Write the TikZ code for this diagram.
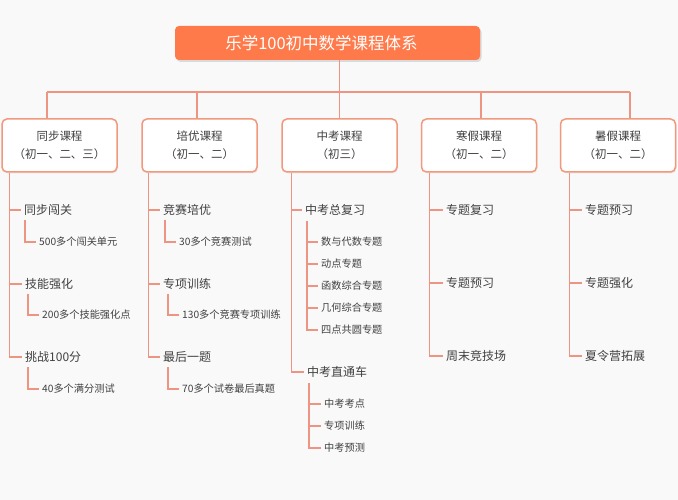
\documentclass[tikz,border=0pt]{standalone}
\usepackage{fontspec}
\setmainfont{Noto Sans CJK SC}
\usetikzlibrary{shadows}
\definecolor{bgc}{HTML}{F9F9F9}
\definecolor{lnc}{HTML}{EE9483}
\definecolor{bdc}{HTML}{F0997C}
\definecolor{ttc}{HTML}{FF7A4A}
\definecolor{txc}{HTML}{404040}
\begin{document}
\begin{tikzpicture}[x=1pt,y=-1pt,
  conn/.style={draw=lnc,line width=1.1pt},
  titlebox/.style={fill=ttc,rounded corners=4pt,minimum width=305pt,minimum height=34pt,inner sep=0pt,
    text=white,font=\fontsize{16.5}{20}\selectfont,
    drop shadow={opacity=0.25,shadow xshift=1.5pt,shadow yshift=-2pt}},
  cbox/.style={draw=bdc,line width=1.5pt,fill=white,rounded corners=5pt,minimum width=115pt,minimum height=53pt,
    inner sep=0pt,align=center,text=txc,font=\fontsize{11.5}{18}\selectfont,
    drop shadow={opacity=0.12,shadow xshift=1pt,shadow yshift=-1.5pt}},
  lvtwo/.style={anchor=west,inner xsep=3pt,inner ysep=0pt,text=txc,font=\fontsize{12}{14}\selectfont},
  lvthree/.style={anchor=west,inner xsep=3pt,inner ysep=0pt,text=txc,font=\fontsize{10.2}{12}\selectfont}
]
\fill[bgc] (0,0) rectangle (678,500);
\useasboundingbox (0,0) rectangle (678,500);

% title
\node[titlebox] (t) at (327.5,43) {乐学100初中数学课程体系\kern12pt};

% course boxes
\node[cbox] (b1) at (59.5,145.5) {同步课程\\（初一、二、三）};
\node[cbox] (b2) at (199.5,145.5) {培优课程\\（初一、二）};
\node[cbox] (b3) at (339.5,145.5) {中考课程\\（初三）};
\node[cbox] (b4) at (479,145.5) {寒假课程\\（初一、二）};
\node[cbox] (b5) at (618,145.5) {暑假课程\\（初一、二）};

% top connectors
\coordinate (h1) at (47,92);
\coordinate (h2) at (197,92);
\coordinate (h3) at (339.5,92);
\coordinate (h4) at (481,92);
\coordinate (h5) at (630,92);
\draw[conn] (h3 |- t.south) -- (h3);
\draw[conn] (h1) -- (h5);
\draw[conn] (h1) -- (h1 |- b1.north);
\draw[conn] (h2) -- (h2 |- b2.north);
\draw[conn] (h3) -- (b3.north);
\draw[conn] (h4) -- (h4 |- b4.north);
\draw[conn] (h5) -- (h5 |- b5.north);

% column 1
\node[lvtwo] (i11) at (21,210) {同步闯关};
\node[lvtwo] (i12) at (22,284) {技能强化};
\node[lvtwo] (i13) at (22,357) {挑战100分};
\node[lvthree] (s11) at (36,242) {500多个闯关单元};
\node[lvthree] (s12) at (39,315) {200多个技能强化点};
\node[lvthree] (s13) at (39,389) {40多个满分测试};
\coordinate (v1) at ([xshift=8pt]b1.south west);
\draw[conn] (v1) |- (i13.west);
\draw[conn] (v1 |- i11.west) -- (i11.west);
\draw[conn] (v1 |- i12.west) -- (i12.west);
\draw[conn] ([xshift=4pt,yshift=-10pt]i11.west) |- (s11.west);
\draw[conn] ([xshift=6pt,yshift=-10pt]i12.west) |- (s12.west);
\draw[conn] ([xshift=6pt,yshift=-10pt]i13.west) |- (s13.west);

% column 2
\node[lvtwo] (i21) at (160,210) {竞赛培优};
\node[lvtwo] (i22) at (160,284) {专项训练};
\node[lvtwo] (i23) at (160,357) {最后一题};
\node[lvthree] (s21) at (176,242) {30多个竞赛测试};
\node[lvthree] (s22) at (179,315) {130多个竞赛专项训练};
\node[lvthree] (s23) at (179,389) {70多个试卷最后真题};
\coordinate (v2) at ([xshift=7pt]b2.south west);
\draw[conn] (v2) |- (i23.west);
\draw[conn] (v2 |- i21.west) -- (i21.west);
\draw[conn] (v2 |- i22.west) -- (i22.west);
\draw[conn] ([xshift=5pt,yshift=-10pt]i21.west) |- (s21.west);
\draw[conn] ([xshift=8pt,yshift=-10pt]i22.west) |- (s22.west);
\draw[conn] ([xshift=8pt,yshift=-10pt]i23.west) |- (s23.west);

% column 3
\node[lvtwo] (i31) at (302,210) {中考总复习};
\node[lvtwo] (i32) at (304,372) {中考直通车};
\node[lvthree] (s31) at (318,242) {数与代数专题};
\node[lvthree] (s32) at (318,264) {动点专题};
\node[lvthree] (s33) at (318,286) {函数综合专题};
\node[lvthree] (s34) at (318,308) {几何综合专题};
\node[lvthree] (s35) at (318,330) {四点共圆专题};
\node[lvthree] (s36) at (321,404) {中考考点};
\node[lvthree] (s37) at (321,426) {专项训练};
\node[lvthree] (s38) at (321,448) {中考预测};
\coordinate (v3) at ([xshift=10pt]b3.south west);
\draw[conn] (v3) |- (i32.west);
\draw[conn] (v3 |- i31.west) -- (i31.west);
\coordinate (w31) at ([xshift=5pt,yshift=-11pt]i31.west);
\draw[conn] (w31) |- (s35.west);
\foreach \s in {s31,s32,s33,s34} \draw[conn] (w31 |- \s.west) -- (\s.west);
\coordinate (w32) at ([xshift=5pt,yshift=-11pt]i32.west);
\draw[conn] (w32) |- (s38.west);
\foreach \s in {s36,s37} \draw[conn] (w32 |- \s.west) -- (\s.west);

% column 4
\node[lvtwo] (i41) at (443,210) {专题复习};
\node[lvtwo] (i42) at (443,283) {专题预习};
\node[lvtwo] (i43) at (443,356) {周末竞技场};
\coordinate (v4) at ([xshift=9pt]b4.south west);
\draw[conn] (v4) |- (i43.west);
\draw[conn] (v4 |- i41.west) -- (i41.west);
\draw[conn] (v4 |- i42.west) -- (i42.west);

% column 5
\node[lvtwo] (i51) at (582,210) {专题预习};
\node[lvtwo] (i52) at (582,283) {专题强化};
\node[lvtwo] (i53) at (582,356) {夏令营拓展};
\coordinate (v5) at ([xshift=10pt]b5.south west);
\draw[conn] (v5) |- (i53.west);
\draw[conn] (v5 |- i51.west) -- (i51.west);
\draw[conn] (v5 |- i52.west) -- (i52.west);
\end{tikzpicture}
\end{document}
